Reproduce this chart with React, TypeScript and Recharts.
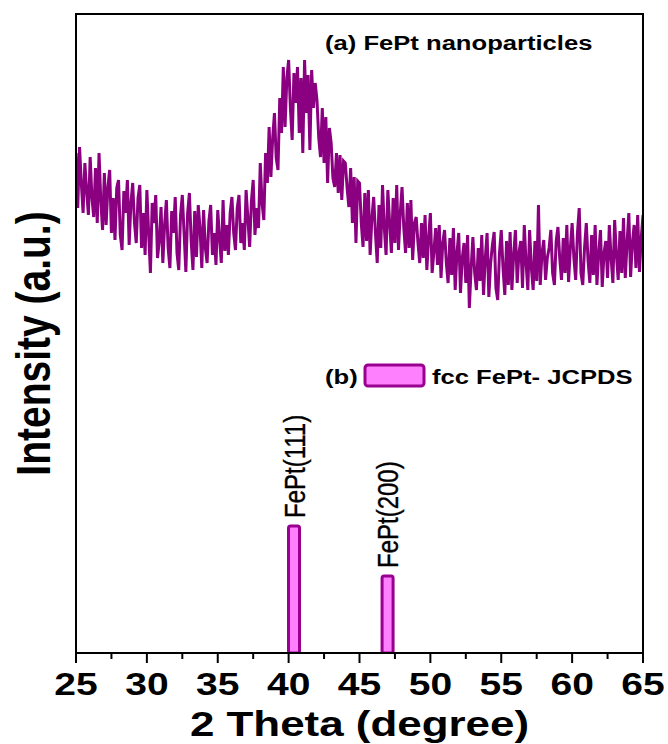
import React from 'react';
import { ComposedChart, Line, Bar, XAxis, YAxis, LabelList, ReferenceArea } from 'recharts';

const FONT = '"Liberation Sans", Arial, Helvetica, sans-serif';
const SX = 1.22;

// XRD pattern (a): intensity sampled every 0.125 deg from 25 deg (arbitrary units)
const thetaStart = 25;
const thetaStep = 0.125;
const intensity = [
  500, 445, 506, 470, 440, 490, 462, 438,
  496, 455, 436, 485, 430, 500, 452, 423,
  480, 428, 466, 483, 420, 455, 413, 465,
  473, 418, 403, 462, 440, 473, 408, 450,
  470, 430, 410, 455, 468, 405, 440, 398,
  463, 420, 380, 450, 430, 458, 395, 412,
  446, 390, 428, 453, 405, 385, 442, 420,
  456, 400, 383, 438, 458, 420, 381, 440,
  460, 412, 383, 442, 396, 448, 425, 385,
  443, 405, 390, 432, 448, 398, 420, 388,
  443, 415, 390, 453, 402, 428, 398, 440,
  456, 420, 403, 445, 458, 410, 430, 403,
  463, 435, 406, 452, 473, 418, 445, 425,
  490, 450, 433, 500, 470, 526, 476, 515,
  540, 495, 483, 555, 520, 586, 526, 575,
  593, 545, 513, 580, 550, 586, 520, 575,
  500, 593, 540, 578, 503, 583, 545, 570,
  553, 515, 496, 545, 490, 536, 470, 525,
  510, 475, 466, 500, 460, 498, 453, 492,
  490, 465, 446, 485, 430, 476, 410, 472,
  470, 430, 406, 460, 412, 463, 398, 435,
  456, 420, 390, 448, 405, 468, 425, 398,
  463, 430, 400, 455, 410, 468, 403, 440,
  466, 425, 400, 450, 405, 453, 393, 430,
  436, 410, 390, 430, 395, 438, 383, 415,
  440, 380, 402, 425, 388, 428, 375, 410,
  423, 390, 370, 415, 378, 425, 363, 400,
  420, 360, 395, 410, 370, 418, 345, 385,
  416, 380, 363, 405, 372, 418, 358, 395,
  420, 356, 390, 408, 421, 365, 353, 400,
  423, 385, 358, 412, 368, 421, 363, 398,
  423, 370, 400, 412, 365, 428, 390, 363,
  423, 385, 363, 412, 372, 448, 368, 400,
  413, 373, 395, 405, 423, 380, 368, 412,
  426, 395, 373, 415, 380, 428, 371, 405,
  430, 395, 373, 420, 445, 380, 368, 405,
  430, 392, 370, 418, 378, 428, 368, 400,
  423, 366, 400, 412, 375, 428, 395, 370,
  433, 398, 373, 422, 380, 435, 375, 410,
  440, 376, 410, 428, 385, 438, 381, 415,
  438,
];

// Reference pattern (b): fcc FePt JCPDS
const peakTheta = [40.4, 47.0];
const peakHeight = [127, 77];
const peakLabels = ['FePt(111)', 'FePt(200)'];

const xDomain = [25, 65];
const yDomain = [0, 639];
const majorTicks = [25, 30, 35, 40, 45, 50, 55, 60, 65];
const minorTicks = [27.5, 32.5, 37.5, 42.5, 47.5, 52.5, 57.5, 62.5];
const xTicks = [...majorTicks, ...minorTicks].sort((a, b) => a - b);

const curveRows = intensity.map((v, i) => ({ theta: thetaStart + i * thetaStep, intensity: v }));
const peakRows = peakTheta.map((t, i) => ({ theta: t, jcpds: peakHeight[i], peakName: peakLabels[i] }));

const LINE_COLOR = '#8B0080';
const BAR_FILL = '#FF80FF';
const BAR_STROKE = '#990090';

const W = 668;
const H = 744;
const PLOT_LEFT = 76;
const PLOT_TOP = 14;
const PLOT_RIGHT = 643;
const PLOT_BOTTOM = 653;

const XTick = (props: any) => {
  const { x, y, payload } = props;
  const v = payload.value;
  const major = majorTicks.includes(v);
  return (
    <g>
      <line x1={x} x2={x} y1={y} y2={y + (major ? 10 : 6)} stroke="#000" strokeWidth={2} />
      {major && (
        <text
          transform={`translate(${x},${y + 42}) scale(${SX},1)`}
          textAnchor="middle"
          fontFamily={FONT}
          fontWeight="bold"
          fontSize={32}
          fill="#000"
        >
          {v}
        </text>
      )}
    </g>
  );
};

const XTitle = (props: any) => {
  const vb = props.viewBox || {};
  const cx = vb.x + vb.width / 2;
  return (
    <text
      transform={`translate(${cx},${vb.y + 83}) scale(${SX},1)`}
      textAnchor="middle"
      fontFamily={FONT}
      fontWeight="bold"
      fontSize={36}
      fill="#000"
    >
      2 Theta (degree)
    </text>
  );
};

const YTitle = (props: any) => {
  const vb = props.viewBox || {};
  const cx = vb.x + 32.5;
  const cy = vb.y + vb.height / 2 + 10;
  return (
    <text
      transform={`translate(${cx},${cy}) scale(${SX},1) rotate(-90)`}
      textAnchor="middle"
      dy="0.36em"
      fontFamily={FONT}
      fontWeight="bold"
      fontSize={39}
      fill="#000"
    >
      Intensity (a.u.)
    </text>
  );
};

const PeakLabel = (props: any) => {
  const { x, y, width, value } = props;
  const cx = x + width / 2;
  return (
    <text
      transform={`translate(${cx},${y - 8}) scale(${SX},1) rotate(-90)`}
      textAnchor="start"
      dy="0.36em"
      fontFamily={FONT}
      fontSize={24}
      fill="#000"
      stroke="#000"
      strokeWidth={0.3}
    >
      {value}
    </text>
  );
};

const Annotations = () => (
  <svg width={W} height={H} style={{ position: 'absolute', left: 0, top: 0, pointerEvents: 'none' }}>
    <rect
      x={PLOT_LEFT}
      y={PLOT_TOP}
      width={PLOT_RIGHT - PLOT_LEFT}
      height={PLOT_BOTTOM - PLOT_TOP}
      fill="none"
      stroke="#000000"
      strokeWidth={2}
    />
    <text
      transform={`translate(325,50) scale(${SX},1)`}
      fontFamily={FONT}
      fontWeight="bold"
      fontSize={21}
      fill="#000"
    >
      (a) FePt nanoparticles
    </text>
    <text
      transform={`translate(325,384) scale(${SX},1)`}
      fontFamily={FONT}
      fontWeight="bold"
      fontSize={21}
      fill="#000"
    >
      (b)
    </text>
    <rect x={365} y={365} width={59} height={21} rx={3} fill={BAR_FILL} stroke={BAR_STROKE} strokeWidth={3} />
    <text
      transform={`translate(432,384) scale(${SX},1)`}
      fontFamily={FONT}
      fontWeight="bold"
      fontSize={21}
      fill="#000"
    >
      fcc FePt- JCPDS
    </text>
  </svg>
);

export default function App() {
  return (
    <div style={{ position: 'absolute', left: 0, top: 0, width: W, height: H, background: '#fff' }}>
      <ComposedChart
        width={W}
        height={H}
        data={peakRows}
        margin={{ top: PLOT_TOP, right: W - PLOT_RIGHT, left: 0, bottom: 0 }}
      >
        <XAxis
          dataKey="theta"
          type="number"
          domain={xDomain}
          allowDataOverflow
          ticks={xTicks}
          interval={0}
          tick={<XTick />}
          tickLine={false}
          tickSize={0}
          tickMargin={0}
          height={H - PLOT_BOTTOM}
          axisLine={{ stroke: '#000', strokeWidth: 2 }}
          label={<XTitle />}
        />
        <XAxis
          xAxisId="bars"
          dataKey="theta"
          type="number"
          domain={xDomain}
          allowDataOverflow
          hide
        />
        <YAxis
          type="number"
          domain={yDomain}
          allowDataOverflow
          width={PLOT_LEFT}
          tick={false}
          tickLine={false}
          axisLine={{ stroke: '#000', strokeWidth: 2 }}
          label={<YTitle />}
        />
        <ReferenceArea
          x1={xDomain[0]}
          x2={xDomain[1]}
          y1={yDomain[0]}
          y2={yDomain[1]}
          fill="#ffffff"
          fillOpacity={0}
          stroke="#000000"
          strokeWidth={2}
          strokeOpacity={1}
          ifOverflow="visible"
        />
        <Line
          data={curveRows}
          dataKey="intensity"
          type="linear"
          stroke={LINE_COLOR}
          strokeWidth={3}
          strokeLinejoin="miter"
          dot={false}
          isAnimationActive={false}
          legendType="none"
        />
        <Bar
          xAxisId="bars"
          dataKey="jcpds"
          barSize={11}
          fill={BAR_FILL}
          stroke={BAR_STROKE}
          strokeWidth={3}
          radius={2}
          isAnimationActive={false}
        >
          <LabelList dataKey="peakName" content={<PeakLabel />} />
        </Bar>
      </ComposedChart>
      <div
        style={{
          position: 'absolute',
          left: PLOT_LEFT - 1,
          top: PLOT_TOP - 1,
          width: PLOT_RIGHT - PLOT_LEFT + 2,
          height: PLOT_BOTTOM - PLOT_TOP + 2,
          borderTop: '2px solid #000',
          borderRight: '2px solid #000',
          boxSizing: 'border-box',
          pointerEvents: 'none',
        }}
      />
      <Annotations />
    </div>
  );
}
